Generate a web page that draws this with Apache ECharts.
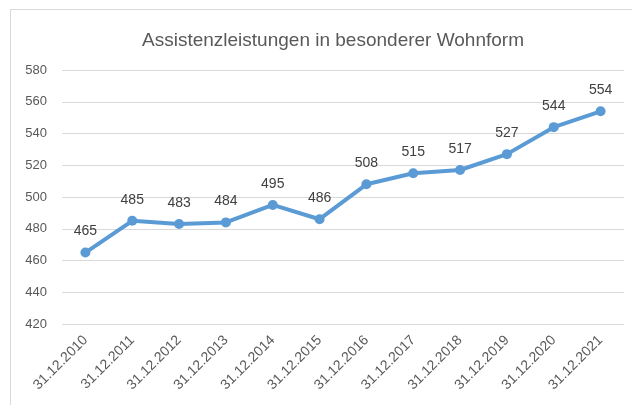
<!DOCTYPE html>
<html>
<head>
<meta charset="utf-8">
<script src="https://cdn.jsdelivr.net/npm/echarts@6/dist/echarts.min.js"></script>
<style>
  html, body { margin: 0; padding: 0; background: #fff; }
  #chart { width: 632px; height: 405px; }
</style>
</head>
<body>
<div id="chart"></div>
<script>
const categories = ['31.12.2010','31.12.2011','31.12.2012','31.12.2013','31.12.2014','31.12.2015',
  '31.12.2016','31.12.2017','31.12.2018','31.12.2019','31.12.2020','31.12.2021'];
const values = [465, 485, 483, 484, 495, 486, 508, 515, 517, 527, 544, 554];

const chart = echarts.init(document.getElementById('chart'), null, { renderer: 'canvas' });
const font = '"Liberation Sans", Arial, sans-serif';

chart.setOption({
  backgroundColor: '#fff',
  animation: false,
  textStyle: { fontFamily: font },
  title: {
    text: 'Assistenzleistungen in besonderer Wohnform',
    left: 328, top: 26, textAlign: 'center',
    textStyle: { fontSize: 19, fontWeight: 'normal', color: '#595959', fontFamily: font }
  },
  graphic: [{
    type: 'rect',
    shape: { x: 10.5, y: 9.5, width: 640, height: 420 },
    style: { fill: 'none', stroke: '#d9d9d9', lineWidth: 1 },
    silent: true
  }],
  grid: { left: 62, right: 8, top: 70, bottom: 81, containLabel: false },
  xAxis: {
    type: 'category', data: categories, boundaryGap: true,
    axisLine: { show: false }, axisTick: { show: false },
    axisLabel: { interval: 0, rotate: 45, color: '#595959', fontSize: 14, margin: 14 }
  },
  yAxis: {
    type: 'value', min: 420, max: 580, interval: 20,
    axisLine: { show: false }, axisTick: { show: false },
    axisLabel: { color: '#595959', fontSize: 13, margin: 15 },
    splitLine: { lineStyle: { color: '#d9d9d9', width: 1 } }
  },
  series: [{
    type: 'line', data: values,
    symbol: 'circle', symbolSize: 10,
    lineStyle: { color: '#5b9bd5', width: 4 },
    itemStyle: { color: '#5b9bd5' },
    label: { show: true, position: 'top', distance: 9, color: '#404040', fontSize: 14 }
  }]
});
</script>
</body>
</html>
